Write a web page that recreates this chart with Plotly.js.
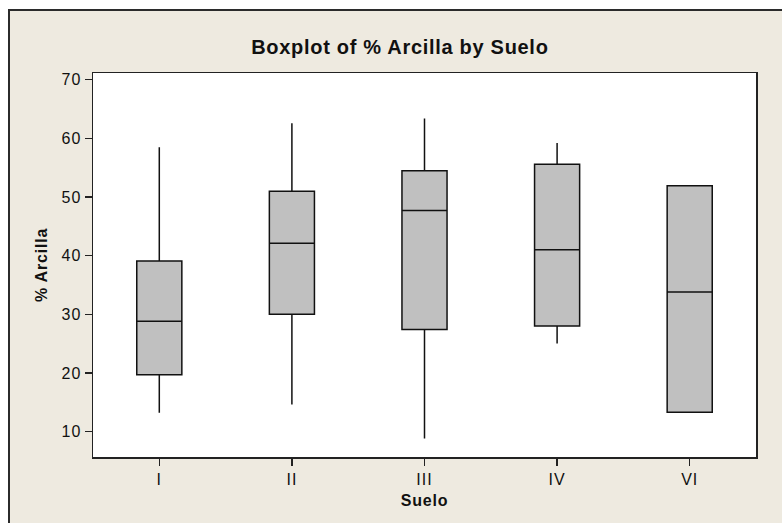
<!DOCTYPE html>
<html>
<head>
<meta charset="utf-8">
<script src="https://cdn.plot.ly/plotly-3.0.1.min.js"></script>
<style>
  html, body { margin: 0; padding: 0; background: #ffffff; width: 782px; height: 523px; overflow: hidden; }
  #frame {
    position: absolute; left: 8px; top: 9px;
    width: 772px; height: 512px;
    border-top: 2px solid #2b2b2b; border-left: 2px solid #2b2b2b;
    background: #eeeae0;
  }
  #chart { width: 772px; height: 512px; }
  /* slightly open letter spacing for all chart text */
  #chart .gtitle { letter-spacing: 0.7px; }
  #chart .xtitle, #chart .ytitle { letter-spacing: 0.8px; }
  #chart .xtick text, #chart .ytick text { letter-spacing: 1px; }
</style>
</head>
<body>
<div id="frame"><div id="chart"></div></div>
<script>
// Soil groups and their five-number summaries for % clay
const suelo = ["I", "II", "III", "IV", "VI"];
const lowerWhisker = [13.2, 14.6, 8.8, 25.0, 13.3];
const q1 = [19.7, 30.0, 27.4, 28.0, 13.3];
const median = [28.8, 42.1, 47.7, 41.0, 33.8];
const q3 = [39.1, 51.0, 54.5, 55.6, 51.9];
const upperWhisker = [58.5, 62.6, 63.4, 59.2, 51.9];

const yTicks = [10, 20, 30, 40, 50, 60, 70];

const FONT = "Liberation Sans, Arial, sans-serif";
const INK = "#111111";

const box = {
  type: "box",
  x: suelo,
  q1: q1,
  median: median,
  q3: q3,
  lowerfence: lowerWhisker,
  upperfence: upperWhisker,
  boxpoints: false,
  width: 0.34,
  whiskerwidth: 0,
  fillcolor: "#c0c0c0",
  line: { color: "#111111", width: 1.5 },
  hoverinfo: "skip",
  showlegend: false
};

const layout = {
  width: 772,
  height: 512,
  margin: { l: 83, r: 26, t: 62, b: 66, pad: 0 },
  paper_bgcolor: "#eeeae0",
  plot_bgcolor: "#ffffff",
  font: { family: FONT, color: INK },
  title: {
    text: "<b>Boxplot of % Arcilla by Suelo</b>",
    font: { family: FONT, size: 20, color: INK },
    x: 0.505, xanchor: "center",
    y: 0.93, yanchor: "middle"
  },
  xaxis: {
    type: "category",
    categoryorder: "array",
    categoryarray: suelo,
    range: [-0.5, 4.5],
    showgrid: false,
    zeroline: false,
    showline: true, mirror: true,
    linecolor: "#222222", linewidth: 1.5,
    ticks: "outside", ticklen: 7, tickwidth: 1.5, tickcolor: "#222222",
    tickfont: { family: FONT, size: 16, color: INK },
    title: { text: "<b>Suelo</b>", font: { family: FONT, size: 16, color: INK }, standoff: 8 }
  },
  yaxis: {
    range: [5.66, 71.15],
    tickvals: yTicks,
    ticktext: yTicks.map(String),
    showgrid: false,
    zeroline: false,
    showline: true, mirror: true,
    linecolor: "#222222", linewidth: 1.5,
    ticks: "outside", ticklen: 7, tickwidth: 1.5, tickcolor: "#222222",
    tickfont: { family: FONT, size: 16, color: INK },
    title: { text: "<b>% Arcilla</b>", font: { family: FONT, size: 16, color: INK }, standoff: 12 }
  }
};

Plotly.newPlot("chart", [box], layout, { displayModeBar: false, staticPlot: true });
</script>
</body>
</html>
